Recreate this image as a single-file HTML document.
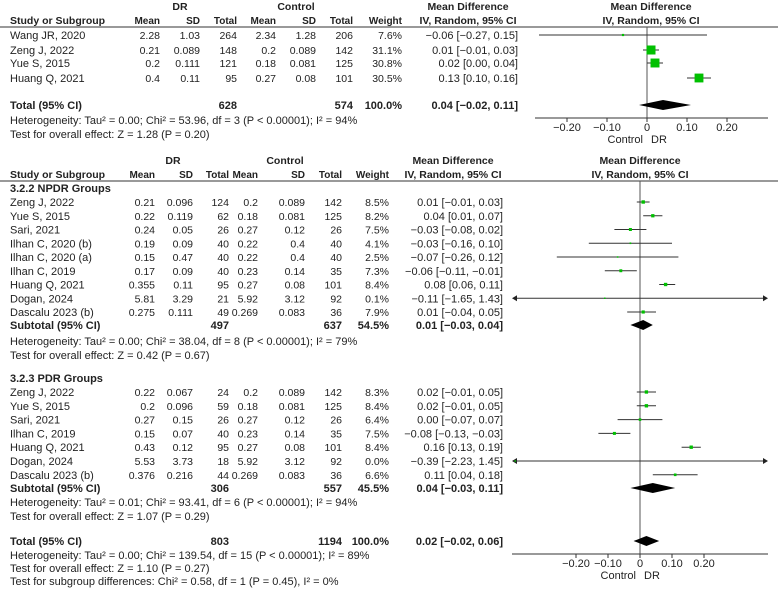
<!DOCTYPE html>
<html><head><meta charset="utf-8"><style>
body{margin:0;background:#fff;}
svg{display:block;font-family:"Liberation Sans","DejaVu Sans",sans-serif;font-size:11px;fill:#222;}
</style></head><body>
<svg id="chart" width="778" height="590" viewBox="0 0 778 590" xmlns="http://www.w3.org/2000/svg"></svg>
<script>
// ---- top meta-analysis data ----
const topStudies = ["Wang JR, 2020","Zeng J, 2022","Yue S, 2015","Huang Q, 2021"];
const topDR = [["2.28","1.03","264"],["0.21","0.089","148"],["0.2","0.111","121"],["0.4","0.11","95"]];
const topCtl = [["2.34","1.28","206"],["0.2","0.089","142"],["0.18","0.081","125"],["0.27","0.08","101"]];
const topWeights = [7.6,31.1,30.8,30.5];
const topMD = [-0.06,0.01,0.02,0.13];
const topLo = [-0.27,-0.01,-0.00,0.10];
const topHi = [0.15,0.03,0.04,0.16];
const topTotal = [0.04,-0.02,0.11];
const topTicks = [-0.2,-0.1,0,0.1,0.2];

// ---- NPDR subgroup ----
const npdrStudies = ["Zeng J, 2022","Yue S, 2015","Sari, 2021","Ilhan C, 2020 (b)","Ilhan C, 2020 (a)","Ilhan C, 2019","Huang Q, 2021","Dogan, 2024","Dascalu 2023 (b)"];
const npdrDR = [["0.21","0.096","124"],["0.22","0.119","62"],["0.24","0.05","26"],["0.19","0.09","40"],["0.15","0.47","40"],["0.17","0.09","40"],["0.355","0.11","95"],["5.81","3.29","21"],["0.275","0.111","49"]];
const npdrCtl = [["0.2","0.089","142"],["0.18","0.081","125"],["0.27","0.12","26"],["0.22","0.4","40"],["0.22","0.4","40"],["0.23","0.14","35"],["0.27","0.08","101"],["5.92","3.12","92"],["0.269","0.083","36"]];
const npdrWeights = [8.5,8.2,7.5,4.1,2.5,7.3,8.4,0.1,7.9];
const npdrMD = [0.01,0.04,-0.03,-0.03,-0.07,-0.06,0.08,-0.11,0.01];
const npdrLo = [-0.01,0.01,-0.08,-0.16,-0.26,-0.11,0.06,-1.65,-0.04];
const npdrHi = [0.03,0.07,0.02,0.10,0.12,-0.01,0.11,1.43,0.05];
const npdrSub = [0.01,-0.03,0.04];

// ---- PDR subgroup ----
const pdrStudies = ["Zeng J, 2022","Yue S, 2015","Sari, 2021","Ilhan C, 2019","Huang Q, 2021","Dogan, 2024","Dascalu 2023 (b)"];
const pdrDR = [["0.22","0.067","24"],["0.2","0.096","59"],["0.27","0.15","26"],["0.15","0.07","40"],["0.43","0.12","95"],["5.53","3.73","18"],["0.376","0.216","44"]];
const pdrCtl = [["0.2","0.089","142"],["0.18","0.081","125"],["0.27","0.12","26"],["0.23","0.14","35"],["0.27","0.08","101"],["5.92","3.12","92"],["0.269","0.083","36"]];
const pdrWeights = [8.3,8.4,6.4,7.5,8.4,0.0,6.6];
const pdrMD = [0.02,0.02,0.00,-0.08,0.16,-0.39,0.11];
const pdrLo = [-0.01,-0.01,-0.07,-0.13,0.13,-2.23,0.04];
const pdrHi = [0.05,0.05,0.07,-0.03,0.19,1.45,0.18];
const pdrSub = [0.04,-0.03,0.11];
const overall = [0.02,-0.02,0.06];
const botTicks = [-0.2,-0.1,0,0.1,0.2];

const svg = document.getElementById('chart');
const NS = "http://www.w3.org/2000/svg";
function el(tag, attrs, name){
  const e = document.createElementNS(NS, tag);
  for (const k in attrs) e.setAttribute(k, attrs[k]);
  
  
  svg.appendChild(e); return e;
}
function txt(x,y,s,anchor,bold,name,size){
  const t = el('text',{x:x,y:y+4,'text-anchor':anchor||'start','font-weight':bold?'bold':'normal','font-size':size||11}, name);
  t.textContent = s; return t;
}
function fmt(v){ return (v<0?"\u2212":"")+Math.abs(v).toFixed(2); }
function ciStr(a){ return fmt(a[0])+" ["+fmt(a[1])+", "+fmt(a[2])+"]"; }

// axis functions
const topX = v => 647 + v*400;
const botX = v => 640 + v*320;
const TOPMIN=535, TOPMAX=768, BOTMIN=512, BOTMAX=768;

function header(y, cols, ciRight, plotCenter){
  txt(cols[1]-20, y-14, "DR", 'middle', true, 'dr-group-header', 10.5);
  txt(cols[4]-20, y-14, "Control", 'middle', true, 'control-group-header', 10.5);
  txt(10, y, "Study or Subgroup", 'start', true, 'study-column-header', 10.5);
  const h = ["Mean","SD","Total","Mean","SD","Total","Weight"];
  h.forEach((s,i)=>txt(cols[i], y, s, 'end', true, 'column-header', 10));
  txt(ciRight-50, y-14, "Mean Difference", 'middle', true, 'md-column-header', 10.5);
  txt(ciRight-50, y, "IV, Random, 95% CI", 'middle', true, 'md-column-subheader', 10.5);
  txt(plotCenter, y-14, "Mean Difference", 'middle', true, 'plot-header', 10.5);
  txt(plotCenter, y, "IV, Random, 95% CI", 'middle', true, 'plot-subheader', 10.5);
  el('line',{x1:0,x2:778,y1:y+7,y2:y+7,stroke:'#333','stroke-width':1},'header-rule');
}

function studyRow(y, name, dr, ctl, w, md, lo, hi, cols, ciRight, X, xmin, xmax, sq){
  txt(10, y, name, 'start', false, 'study-name');
  [dr[0],dr[1],dr[2],ctl[0],ctl[1],ctl[2]].forEach((s,i)=>txt(cols[i], y, s, 'end', false, 'study-value', 10.5));
  txt(cols[6], y, w.toFixed(1)+"%", 'end', false, 'study-weight', 10.5);
  txt(ciRight, y, ciStr([md,lo,hi]), 'end', false, 'study-ci');
  const x1 = Math.max(X(lo), xmin+2), x2 = Math.min(X(hi), xmax-2);
  el('line',{x1:x1,x2:x2,y1:y,y2:y,stroke:'#333','stroke-width':1},'ci-line');
  if (X(lo) < xmin) el('polygon',{points:`${xmin},${y} ${xmin+5},${y-3} ${xmin+5},${y+3}`,fill:'#222'},'ci-arrow-left');
  if (X(hi) > xmax) el('polygon',{points:`${xmax},${y} ${xmax-5},${y-3} ${xmax-5},${y+3}`,fill:'#222'},'ci-arrow-right');
  const s = Math.max(1.5, w*sq);
  el('rect',{x:X(md)-s/2,y:y-s/2,width:s,height:s,fill:'#00c000'},'effect-square');
}
function diamond(y, a, X, name){
  el('polygon',{points:`${X(a[1])},${y} ${X(a[0])},${y-5} ${X(a[2])},${y} ${X(a[0])},${y+5}`,fill:'#000'},name);
}
function axis(y, X, xmin, xmax, ticks){
  el('line',{x1:xmin,x2:xmax,y1:y,y2:y,stroke:'#333','stroke-width':1},'x-axis');
  ticks.forEach(t=>{
    el('line',{x1:X(t),x2:X(t),y1:y,y2:y+4,stroke:'#333'},'x-tick');
    txt(X(t), y+9, t===0?"0":fmt(t), 'middle', false, 'x-tick-label');
  });
  txt(X(0)-4, y+21, "Control", 'end', false, 'favours-control-label');
  txt(X(0)+4, y+21, "DR", 'start', false, 'favours-dr-label');
}

// ---- TOP ----
const colsT = [160,200,237,276,316,353,402];
header(20, colsT, 518, 651);
const topY = [35,50,63,78];
el('line',{x1:topX(0),x2:topX(0),y1:27,y2:118,stroke:'#555'},'zero-line-top');
topStudies.forEach((s,i)=>studyRow(topY[i], s, topDR[i], topCtl[i], topWeights[i], topMD[i], topLo[i], topHi[i], colsT, 518, topX, TOPMIN, TOPMAX, 0.29));
txt(10,105,"Total (95% CI)",'start',true,'total-label');
txt(colsT[2],105,"628",'end',true,'total-dr');
txt(colsT[5],105,"574",'end',true,'total-control');
txt(colsT[6],105,"100.0%",'end',true,'total-weight');
txt(518,105,ciStr(topTotal),'end',true,'total-ci');
diamond(105, topTotal, topX, 'total-diamond');
txt(10,120,"Heterogeneity: Tau² = 0.00; Chi² = 53.96, df = 3 (P < 0.00001); I² = 94%",'start',false,'heterogeneity-text');
txt(10,134,"Test for overall effect: Z = 1.28 (P = 0.20)",'start',false,'overall-effect-text');
axis(118, topX, TOPMIN, TOPMAX, topTicks);

// ---- BOTTOM ----
const colsB = [155,193,229,258,305,342,389];
header(174, colsB, 503, 640);
el('line',{x1:botX(0),x2:botX(0),y1:181,y2:554,stroke:'#555'},'zero-line-bottom');
txt(10,188,"3.2.2 NPDR Groups",'start',true,'npdr-subgroup-title');
npdrStudies.forEach((s,i)=>studyRow(202+i*13.75, s, npdrDR[i], npdrCtl[i], npdrWeights[i], npdrMD[i], npdrLo[i], npdrHi[i], colsB, 503, botX, BOTMIN, BOTMAX, 0.4));
txt(10,325,"Subtotal (95% CI)",'start',true,'subtotal-label');
txt(colsB[2],325,"497",'end',true,'subtotal-dr');
txt(colsB[5],325,"637",'end',true,'subtotal-control');
txt(colsB[6],325,"54.5%",'end',true,'subtotal-weight');
txt(503,325,ciStr(npdrSub),'end',true,'subtotal-ci');
diamond(325, npdrSub, botX, 'npdr-diamond');
txt(10,341,"Heterogeneity: Tau² = 0.00; Chi² = 38.04, df = 8 (P < 0.00001); I² = 79%",'start',false,'heterogeneity-text');
txt(10,355,"Test for overall effect: Z = 0.42 (P = 0.67)",'start',false,'overall-effect-text');

txt(10,378,"3.2.3 PDR Groups",'start',true,'pdr-subgroup-title');
pdrStudies.forEach((s,i)=>studyRow(392+i*13.8, s, pdrDR[i], pdrCtl[i], pdrWeights[i], pdrMD[i], pdrLo[i], pdrHi[i], colsB, 503, botX, BOTMIN, BOTMAX, 0.4));
txt(10,488,"Subtotal (95% CI)",'start',true,'subtotal-label');
txt(colsB[2],488,"306",'end',true,'subtotal-dr');
txt(colsB[5],488,"557",'end',true,'subtotal-control');
txt(colsB[6],488,"45.5%",'end',true,'subtotal-weight');
txt(503,488,ciStr(pdrSub),'end',true,'subtotal-ci');
diamond(488, pdrSub, botX, 'pdr-diamond');
txt(10,502,"Heterogeneity: Tau² = 0.01; Chi² = 93.41, df = 6 (P < 0.00001); I² = 94%",'start',false,'heterogeneity-text');
txt(10,516,"Test for overall effect: Z = 1.07 (P = 0.29)",'start',false,'overall-effect-text');

txt(10,541,"Total (95% CI)",'start',true,'total-label');
txt(colsB[2],541,"803",'end',true,'total-dr');
txt(colsB[5],541,"1194",'end',true,'total-control');
txt(colsB[6],541,"100.0%",'end',true,'total-weight');
txt(503,541,ciStr(overall),'end',true,'total-ci');
diamond(541, overall, botX, 'overall-diamond');
txt(10,555,"Heterogeneity: Tau² = 0.00; Chi² = 139.54, df = 15 (P < 0.00001); I² = 89%",'start',false,'heterogeneity-text');
txt(10,568,"Test for overall effect: Z = 1.10 (P = 0.27)",'start',false,'overall-effect-text');
txt(10,581,"Test for subgroup differences: Chi² = 0.58, df = 1 (P = 0.45), I² = 0%",'start',false,'subgroup-differences-text');
axis(554, botX, BOTMIN, BOTMAX, botTicks);
</script>
</body></html>
